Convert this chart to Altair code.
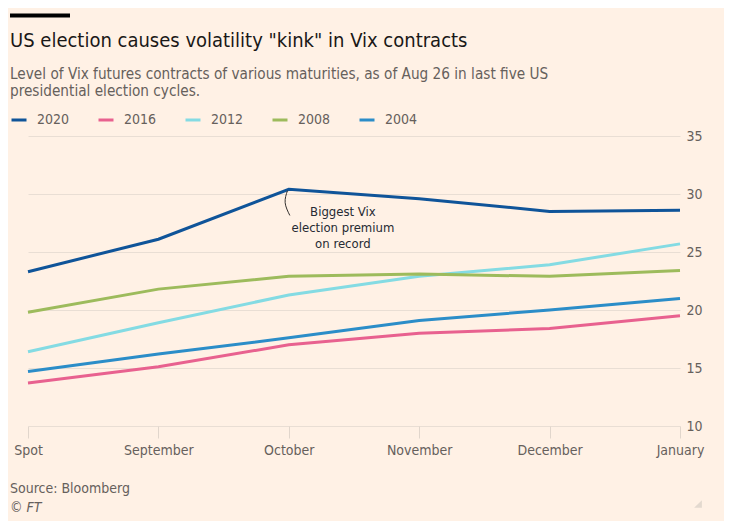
import json
import altair as alt
import pandas as pd

categories = ["Spot", "September", "October", "November", "December", "January"]
years = ["2020", "2016", "2012", "2008", "2004"]
v2020 = [23.3, 26.1, 30.4, 29.6, 28.5, 28.6]
v2016 = [13.7, 15.1, 17.0, 18.0, 18.4, 19.5]
v2012 = [16.4, 18.9, 21.3, 22.9, 23.9, 25.7]
v2008 = [19.8, 21.8, 22.9, 23.1, 22.9, 23.4]
v2004 = [14.7, 16.2, 17.6, 19.1, 20.0, 21.0]
colors = ["#0f5499", "#e8618f", "#84dbe3", "#9dbb5c", "#2b8dc8"]
y_ticks = [10, 15, 20, 25, 30, 35]

title_text = 'US election causes volatility "kink" in Vix contracts'
subtitle_line1 = "Level of Vix futures contracts of various maturities, as of Aug 26 in last five US"
subtitle_line2 = "presidential election cycles."
annotation_text = "Biggest Vix\nelection premium\non record"
annotation_pos = {"idx": 2.415, "value": 28.95}
connector_idx = [1.99, 1.972, 2.008]
connector_val = [30.3, 29.25, 28.15]
source_text = "Source: Bloomberg"
credit_text = "© FT"

FONT = "'Liberation Sans Narrow', 'DejaVu Sans Condensed', Roboto, sans-serif"
GREY = "#66605c"

series = [v2020, v2016, v2012, v2008, v2004]
rows = []
for y, vals in zip(years, series):
    for i, v in enumerate(vals):
        rows.append({"year": y, "idx": i, "month": categories[i], "value": v})
df = pd.DataFrame(rows)

label_expr = json.dumps(categories) + "[datum.value]"

x_enc = alt.X(
    "idx:Q",
    scale=alt.Scale(domain=[0, len(categories) - 1], nice=False, zero=False),
    axis=alt.Axis(
        values=list(range(len(categories))),
        labelExpr=label_expr,
        labelFlush=False,
        title=None,
        grid=False,
        domain=False,
        ticks=True,
        tickSize=12,
        tickColor="#e1d6cc",
        labelPadding=5,
        labelFontSize=14,
        labelColor=GREY,
        labelFont=FONT,
    ),
)
y_scale = alt.Scale(domain=[10, 35], nice=False, zero=False)
y_enc = alt.Y(
    "value:Q",
    scale=y_scale,
    axis=alt.Axis(
        orient="right",
        values=y_ticks,
        title=None,
        domain=False,
        ticks=False,
        grid=True,
        gridColor="#e9ded4",
        labelPadding=6,
        labelFontSize=14,
        labelColor=GREY,
        labelFont=FONT,
    ),
)

lines = alt.Chart(df).mark_line(strokeWidth=3).encode(
    x=x_enc,
    y=y_enc,
    color=alt.Color(
        "year:N",
        scale=alt.Scale(domain=years, range=colors),
        sort=years,
        legend=alt.Legend(
            title=None,
            orient="none",
            legendX=-18,
            legendY=-25,
            direction="horizontal",
            symbolType="stroke",
            symbolSize=225,
            symbolStrokeWidth=3,
            labelFontSize=14,
            labelColor=GREY,
            labelFont=FONT,
            labelOffset=9,
            columnPadding=22,
        ),
    ),
)

ann = alt.Chart(pd.DataFrame([{**annotation_pos, "t": annotation_text}])).mark_text(
    align="center", baseline="top", fontSize=13, lineHeight=16, color="#262a33",
    font=FONT, lineBreak="\n",
).encode(x="idx:Q", y="value:Q", text="t:N")

conn = alt.Chart(pd.DataFrame({"idx": connector_idx, "value": connector_val, "o": [0, 1, 2]})).mark_line(
    color="#33302e", strokeWidth=1, interpolate="natural"
).encode(x="idx:Q", y="value:Q", order="o:Q")


def label(text, y, size, color, style="normal"):
    return alt.Chart(pd.DataFrame([{"t": text}])).mark_text(
        align="left", baseline="alphabetic", fontSize=size, color=color, font=FONT, fontStyle=style
    ).encode(x=alt.value(-18), y=alt.value(y), text="t:N")


bar = alt.Chart(pd.DataFrame([{"a": 1}])).mark_rule(color="#000000", strokeWidth=4).encode(
    x=alt.value(-18), x2=alt.value(42), y=alt.value(-120.5)
)
grip = alt.Chart(pd.DataFrame([{"a": 1}])).mark_point(
    shape="M 1 -1 L 1 1 L -1 1 Z", filled=True, color="#e3d9cf", size=60, opacity=1
).encode(x=alt.value(670), y=alt.value(368))
ttl = label(title_text, -89, 20, "#1a1817")
sub1 = label(subtitle_line1, -57, 15.2, GREY)
sub2 = label(subtitle_line2, -40, 15.2, GREY)
src = label(source_text, 357, 14, GREY)
cred = label(credit_text, 376, 14, GREY, "italic")

chart = alt.layer(lines, conn, ann, bar, grip, ttl, sub1, sub2, src, cred).properties(
    width=652,
    height=290,
    autosize=alt.AutoSizeParams(type="none"),
    padding={"left": 20, "top": 128, "right": 44, "bottom": 95},
).configure(background="#fff1e5").configure_view(stroke=None)

chart.save("out.html", embed_options={"renderer": "svg", "actions": False})
